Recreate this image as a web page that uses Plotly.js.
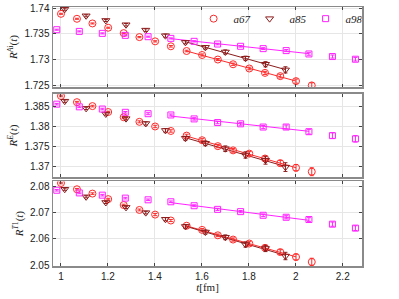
<!DOCTYPE html>
<html>
<head>
<meta charset="utf-8">
<script src="https://cdn.plot.ly/plotly-3.0.1.min.js"></script>
<style>html,body{margin:0;padding:0;background:#fff;}#chart{width:399px;height:299px;}</style>
</head>
<body>
<div id="chart"></div>
<script>
// ---- data ----
const seriesNames = ['a67', 'a85', 'a98'];

const t67 = [1.0, 1.068, 1.134, 1.201, 1.267, 1.334, 1.401, 1.468, 1.535, 1.601, 1.668, 1.733, 1.802, 1.869, 1.934, 2.001, 2.068];
const t85 = [1.016, 1.107, 1.191, 1.277, 1.361, 1.445, 1.530, 1.615, 1.700, 1.786, 1.871, 1.956];
const t98 = [0.982, 1.078, 1.176, 1.274, 1.371, 1.468, 1.567, 1.667, 1.765, 1.861, 1.959, 2.056, 2.156, 2.254];

// panel 1: R^{A_i}(t)
const A67 = [1.73888, 1.73792, 1.73702, 1.73619, 1.73515, 1.73438, 1.73356, 1.73260, 1.73169, 1.73092, 1.73004, 1.72913, 1.72831, 1.72746, 1.72683, 1.72587, 1.72504];
const A85 = [1.73977, 1.73850, 1.73760, 1.73677, 1.73573, 1.73465, 1.73337, 1.73240, 1.73150, 1.73029, 1.72913, 1.72804];
const A98 = [1.73581, 1.73548, 1.73510, 1.73471, 1.73446, 1.73413, 1.73356, 1.73304, 1.73260, 1.73215, 1.73177, 1.73112, 1.73062, 1.73010];
const A67e = [0.0001, 0.0001, 0.0001, 0.0001, 0.0001, 0.00012, 0.00012, 0.00015, 0.00015, 0.0002, 0.0002, 0.00022, 0.00025, 0.0003, 0.00035, 0.0004, 0.0005];
const A85e = [0.0002, 0.0002, 0.0002, 0.00025, 0.00025, 0.0003, 0.0003, 0.00035, 0.0004, 0.0004, 0.0005, 0.0006];
const A98e = [0.0001, 0.0001, 0.0001, 0.0001, 0.0001, 0.0001, 0.00012, 0.00015, 0.00015, 0.00018, 0.0002, 0.00025, 0.0003, 0.00035];

// panel 2: R^{E}(t)
const E67 = [1.38775, 1.38619, 1.38520, 1.38371, 1.38240, 1.38124, 1.38007, 1.37894, 1.37777, 1.37661, 1.37512, 1.37406, 1.37324, 1.37201, 1.37084, 1.36968, 1.36869];
const E85 = [1.38644, 1.38463, 1.38322, 1.38205, 1.38082, 1.37908, 1.37710, 1.37584, 1.37448, 1.37290, 1.37158, 1.36985];
const E98 = [1.38569, 1.38502, 1.38446, 1.38364, 1.38329, 1.38297, 1.38198, 1.38106, 1.38074, 1.37993, 1.37993, 1.37876, 1.37777, 1.37696];
const E67e = [0.0002, 0.0002, 0.0002, 0.0002, 0.00025, 0.00025, 0.0003, 0.0003, 0.00035, 0.0004, 0.0004, 0.00045, 0.0005, 0.0006, 0.0007, 0.0008, 0.001];
const E85e = [0.0003, 0.0003, 0.0003, 0.00035, 0.0004, 0.00045, 0.0005, 0.0006, 0.0007, 0.0008, 0.001, 0.0011];
const E98e = [0.0002, 0.0002, 0.0002, 0.0002, 0.00025, 0.00025, 0.0003, 0.0003, 0.00035, 0.0004, 0.0005, 0.0006, 0.0007, 0.0008];

// panel 3: R^{T_1}(t)
const T67 = [2.08120, 2.07884, 2.07719, 2.07509, 2.07285, 2.07097, 2.06921, 2.06697, 2.06498, 2.06341, 2.06135, 2.05974, 2.05824, 2.05659, 2.05498, 2.05311, 2.05124];
const T85 = [2.07884, 2.07596, 2.07382, 2.07195, 2.06996, 2.06745, 2.06472, 2.06259, 2.06060, 2.05787, 2.05637, 2.05349];
const T98 = [2.07846, 2.07745, 2.07659, 2.07547, 2.07483, 2.07408, 2.07258, 2.07120, 2.07034, 2.06895, 2.06820, 2.06734, 2.06558, 2.06408];
const T67e = [0.0003, 0.0003, 0.0003, 0.0003, 0.0003, 0.00035, 0.0004, 0.0004, 0.00045, 0.0005, 0.0005, 0.0006, 0.0007, 0.0008, 0.0009, 0.0011, 0.0014];
const T85e = [0.0004, 0.0004, 0.0004, 0.00045, 0.0005, 0.0006, 0.0007, 0.0008, 0.0009, 0.001, 0.0012, 0.0014];
const T98e = [0.0003, 0.0003, 0.0003, 0.0003, 0.0003, 0.0003, 0.00035, 0.0004, 0.0004, 0.0005, 0.0006, 0.0007, 0.0008, 0.0009];

// fit ranges [tmin, tmax] per ensemble
const fit67 = [1.535, 2.001];
const fit85 = [1.530, 1.956];
const fit98 = [1.468, 2.056];

const xTicks = [1, 1.2, 1.4, 1.6, 1.8, 2, 2.2];
const xTickText = ['1', '1.2', '1.4', '1.6', '1.8', '2', '2.2'];
const yTicks1 = [1.725, 1.73, 1.735, 1.74];
const yTicks2 = [1.37, 1.375, 1.38, 1.385];
const yTicks3 = [2.05, 2.06, 2.07, 2.08];

// ---- style ----
const colors = ['#ff2a2a', '#8c1c1c', '#ff22ff'];
const symbols = ['circle-open', 'triangle-down-open', 'square-open'];
const sizes = [7, 7, 6];

function linfit(xs, ys, lo, hi) {
  let n = 0, sx = 0, sy = 0, sxx = 0, sxy = 0;
  for (let i = 0; i < xs.length; i++) {
    if (xs[i] >= lo - 1e-9 && xs[i] <= hi + 1e-9) {
      n++; sx += xs[i]; sy += ys[i]; sxx += xs[i] * xs[i]; sxy += xs[i] * ys[i];
    }
  }
  const b = (n * sxy - sx * sy) / (n * sxx - sx * sx);
  const a = (sy - b * sx) / n;
  return [a + b * lo, a + b * hi];
}

const panels = [
  {ax: '3', ys: [A67, A85, A98], es: [A67e, A85e, A98e]},
  {ax: '2', ys: [E67, E85, E98], es: [E67e, E85e, E98e]},
  {ax: '',  ys: [T67, T85, T98], es: [T67e, T85e, T98e]}
];
const ts = [t67, t85, t98];
const fits = [fit67, fit85, fit98];

const traces = [];
panels.forEach((p, pi) => {
  for (let s = 0; s < 3; s++) {
    const f = linfit(ts[s], p.ys[s], fits[s][0], fits[s][1]);
    traces.push({
      x: fits[s], y: f, xaxis: 'x' + p.ax, yaxis: 'y' + p.ax,
      mode: 'lines', line: {color: colors[s], width: 1}, showlegend: false, hoverinfo: 'skip'
    });
  }
  for (let s = 0; s < 3; s++) {
    traces.push({
      x: ts[s], y: p.ys[s], xaxis: 'x' + p.ax, yaxis: 'y' + p.ax,
      mode: 'markers', name: seriesNames[s], showlegend: pi === 0,
      marker: {symbol: symbols[s], size: sizes[s], color: colors[s], line: {width: 1, color: colors[s]}},
      error_y: {type: 'data', array: p.es[s], visible: true, color: colors[s], thickness: 1, width: 2}
    });
  }
});

const axisLine = '#8a8a8a';
const serif = 'Liberation Serif, Times New Roman, serif';
function xa(domainAnchor, labels) {
  return {
    anchor: domainAnchor, range: [0.966, 2.282], tickvals: xTicks, ticktext: xTickText,
    showticklabels: labels, ticks: 'inside', ticklen: 3, tickcolor: '#444', mirror: 'ticks',
    showline: true, linecolor: axisLine, linewidth: 1.5, showgrid: true, gridcolor: '#e6e6e6',
    zeroline: false, tickfont: {family: 'Liberation Sans, Arial, sans-serif', size: 10, color: '#222'}
  };
}
function ya(domain, range, ticks, title) {
  return {
    domain: domain, range: range, tickvals: ticks, ticks: 'inside', ticklen: 3, tickcolor: '#444',
    mirror: 'ticks', showline: true, linecolor: axisLine, linewidth: 1.5, showgrid: true,
    gridcolor: '#e6e6e6', zeroline: false,
    tickfont: {family: 'Liberation Sans, Arial, sans-serif', size: 10, color: '#222'},
    title: {text: title, font: {family: serif, size: 11, color: '#222'}, standoff: 4}
  };
}

const layout = {
  width: 399, height: 299,
  margin: {l: 53, r: 37, t: 4, b: 33},
  paper_bgcolor: '#fff', plot_bgcolor: '#fff',
  showlegend: true,
  legend: {
    orientation: 'h', x: 0.455, y: 0.955, xanchor: 'left', yanchor: 'middle',
    bgcolor: 'rgba(255,255,255,0)', borderwidth: 0, itemwidth: 30,
    entrywidth: 11, entrywidthmode: 'pixels',
    font: {family: serif, size: 11, color: '#222', style: 'italic'},
    tracegroupgap: 0
  },
  xaxis: Object.assign(xa('y', true), {
    title: {text: '<i>t</i>[fm]', font: {family: serif, size: 11, color: '#222'}, standoff: 2}
  }),
  xaxis2: xa('y2', false),
  xaxis3: xa('y3', false),
  yaxis: ya([0, 0.3275], [2.0497, 2.0819], yTicks3, '<i>R</i><sup><i>T</i>1</sup>(<i>t</i>)'),
  yaxis2: ya([0.3428, 0.6649], [1.3673, 1.3883], yTicks2, '<i>R</i><sup><i>E</i></sup>(<i>t</i>)'),
  yaxis3: ya([0.6905, 1], [1.7247, 1.7402], yTicks1, '<i>R</i><sup><i>A</i>i</sup>(<i>t</i>)')
};

Plotly.newPlot('chart', traces, layout, {displayModeBar: false, staticPlot: true});
</script>
</body>
</html>
